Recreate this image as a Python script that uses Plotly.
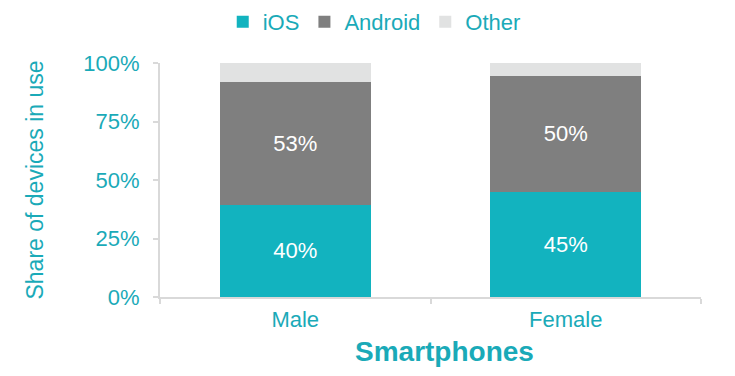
import plotly.graph_objects as go

categories = ["Male", "Female"]
ios = [0.395, 0.45]
android = [0.525, 0.495]
other = [0.08, 0.055]
ios_labels = ["40%", "45%"]
android_labels = ["53%", "50%"]
yticks = [0, 0.25, 0.5, 0.75, 1.0]
yticklabels = ["0%", "25%", "50%", "75%", "100%"]

TEAL = "#1aaab8"
FONT = "Liberation Sans, Arial, sans-serif"
FS = 22

fig = go.Figure()
fig.add_bar(name="iOS", x=categories, y=ios, marker_color="#12b3bf",
            text=ios_labels, textposition="inside", insidetextanchor="middle",
            textfont=dict(color="white", size=FS, family=FONT))
fig.add_bar(name="Android", x=categories, y=android, marker_color="#7f7f7f",
            text=android_labels, textposition="inside", insidetextanchor="middle",
            textfont=dict(color="white", size=FS, family=FONT))
fig.add_bar(name="Other", x=categories, y=other, marker_color="#e1e2e2",
            hoverinfo="skip")

fig.update_traces(marker_line_width=0, textangle=0)

fig.update_layout(
    barmode="stack",
    bargap=0.44,
    width=735, height=376,
    margin=dict(l=152, r=42, t=55, b=87, autoexpand=False),
    paper_bgcolor="white", plot_bgcolor="white",
    font=dict(family=FONT, color=TEAL, size=FS),
    legend=dict(orientation="h", x=0.396, xanchor="center", y=1.175, yanchor="middle",
                font=dict(size=FS, color=TEAL, family=FONT), itemwidth=30,
                traceorder="normal", bgcolor="rgba(0,0,0,0)"),
    xaxis=dict(showline=True, linecolor="#d9d9d9", linewidth=2,
               ticks="outside", tickson="boundaries", ticklen=5, tickcolor="#d9d9d9",
               tickwidth=2, showgrid=False, tickfont=dict(size=FS, color=TEAL),
               ticklabelstandoff=2),
    yaxis=dict(range=[0, 1], tickvals=yticks, ticktext=yticklabels,
               showline=True, linecolor="#d9d9d9", linewidth=2,
               ticks="outside", ticklen=5, tickcolor="#d9d9d9", tickwidth=2,
               showgrid=False, zeroline=False, ticklabelstandoff=9,
               tickfont=dict(size=FS, color=TEAL),
               title=dict(text="Share of devices in use", font=dict(size=23, color=TEAL),
                          standoff=33)),
    annotations=[dict(text="<b>Smartphones</b>", xref="paper", yref="paper",
                      x=0.525, y=-0.235, xanchor="center", yanchor="middle",
                      showarrow=False, font=dict(size=28, color=TEAL, family=FONT))],
)

fig.write_html("out.html")
